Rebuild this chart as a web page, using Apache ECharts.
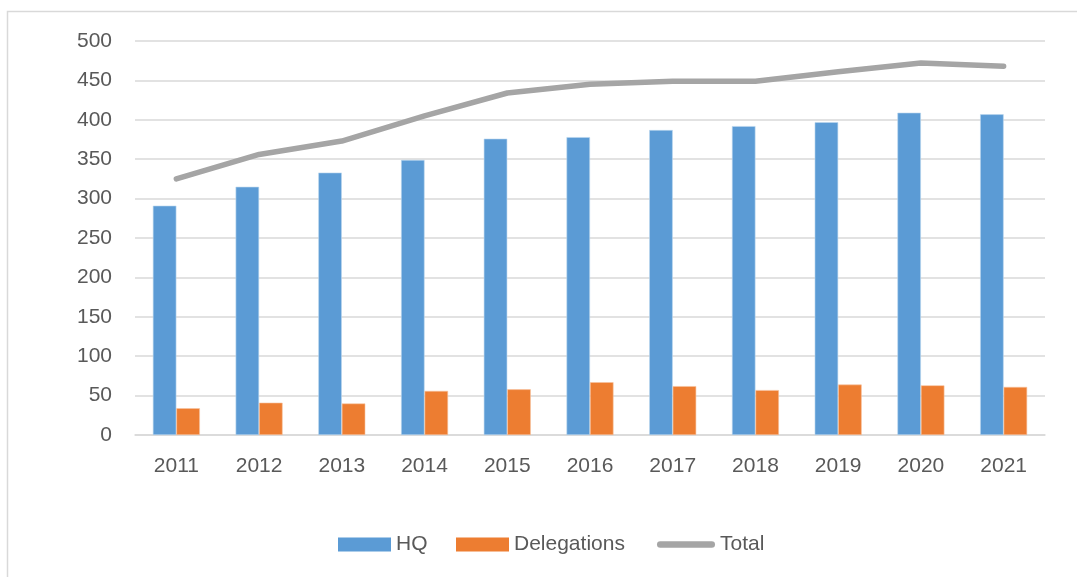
<!DOCTYPE html>
<html>
<head>
<meta charset="utf-8">
<script src="https://cdn.jsdelivr.net/npm/echarts@6/dist/echarts.min.js"></script>
<style>html,body{margin:0;padding:0;background:#fff;}#c{width:1077px;height:577px;}</style>
</head>
<body>
<div id="c"></div>
<script>
const years = ['2011','2012','2013','2014','2015','2016','2017','2018','2019','2020','2021'];
const hq = [291, 315, 333, 349, 376, 378, 387, 392, 397, 409, 407];
const delegations = [34, 41, 40, 56, 58, 67, 62, 57, 64, 63, 61];
const total = [325, 356, 373, 405, 434, 445, 449, 449, 461, 472, 468];

const chart = echarts.init(document.getElementById('c'), null, {renderer: 'canvas'});
const font = 'Liberation Sans, Arial, sans-serif';
const txt = '#595959';
const legendBase = {
  top: 534, itemHeight: 14, itemGap: 0, itemWidth: 53,
  textStyle: {fontFamily: font, fontSize: 21, color: txt, padding: [0,0,0,0]},
  padding: 0
};
chart.setOption({
  animation: false,
  backgroundColor: '#fff',
  graphic: [{type: 'rect', shape: {x: 7.5, y: 11.5, width: 1200, height: 700},
    style: {fill: 'none', stroke: '#d9d9d9', lineWidth: 1.5}, silent: true}],
  grid: {left: 135, right: 32, top: 41, bottom: 142},
  legend: [
    Object.assign({}, legendBase, {left: 338, data: [{name: 'HQ', icon: 'rect', itemStyle: {borderWidth: 0}}]}),
    Object.assign({}, legendBase, {left: 456, data: [{name: 'Delegations', icon: 'rect', itemStyle: {borderWidth: 0}}]}),
    Object.assign({}, legendBase, {left: 657, itemWidth: 58,
      data: [{name: 'Total', icon: 'path://M3.25,0 L54.75,0 A3.25,3.25 0 0 1 54.75,6.5 L3.25,6.5 A3.25,3.25 0 0 1 3.25,0 Z',
              itemStyle: {color: '#A5A5A5', borderWidth: 0}}]})
  ],
  xAxis: {
    type: 'category', data: years,
    axisLine: {lineStyle: {color: '#d9d9d9', width: 1.5}},
    axisTick: {show: false},
    axisLabel: {fontFamily: font, fontSize: 21, color: txt, margin: 21}
  },
  yAxis: {
    type: 'value', min: 0, max: 500, interval: 50,
    axisLine: {show: false}, axisTick: {show: false},
    splitLine: {lineStyle: {color: '#d9d9d9', width: 1.5}},
    axisLabel: {fontFamily: font, fontSize: 21, color: txt, margin: 23}
  },
  series: [
    {name: 'HQ', type: 'bar', data: hq, barWidth: 23.5, barGap: '0%',
     itemStyle: {color: '#5B9BD5', borderColor: '#bcd7ef', borderWidth: 0.6}},
    {name: 'Delegations', type: 'bar', data: delegations, barWidth: 23.5,
     itemStyle: {color: '#ED7D31', borderColor: '#f7c3a0', borderWidth: 0.6}},
    {name: 'Total', type: 'line', data: total, symbol: 'none', showSymbol: false,
     lineStyle: {color: '#A5A5A5', width: 5.5, cap: 'round', join: 'round'},
     itemStyle: {color: '#A5A5A5'}}
  ]
});
</script>
</body>
</html>
